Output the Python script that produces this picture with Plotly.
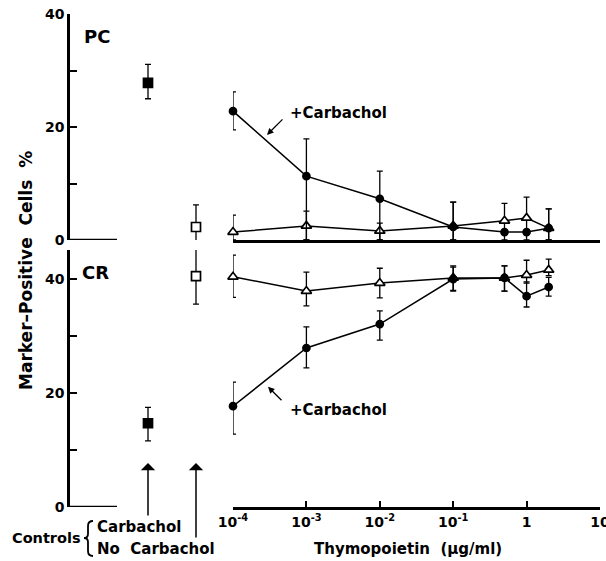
import plotly.graph_objects as go

# ---------------- data ----------------
conc = [1e-4, 1e-3, 1e-2, 1e-1, 0.5, 1, 2]          # thymopoietin, ug/ml

pc_carb = [22.8, 11.3, 7.3, 2.3, 1.4, 1.4, 2.1]
pc_carb_up = [3.4, 6.6, 4.9, 4.4, 0.0, 0.0, 3.4]
pc_carb_dn = [3.3, 11.3, 7.3, 2.3, 1.4, 1.4, 2.1]

pc_nocarb = [1.4, 2.5, 1.6, 2.5, 3.4, 3.9, 2.1]
pc_nocarb_up = [3.0, 2.6, 1.4, 4.2, 3.1, 3.7, 3.4]
pc_nocarb_dn = [1.4, 2.5, 1.6, 2.5, 2.0, 2.5, 2.1]

cr_carb = [17.7, 27.9, 32.1, 40.0, 40.2, 37.0, 38.6]
cr_carb_up = [4.2, 3.7, 2.3, 2.1, 2.1, 2.5, 1.7]
cr_carb_dn = [4.9, 3.5, 2.8, 2.0, 2.3, 1.9, 1.6]

cr_nocarb = [40.4, 37.9, 39.3, 40.2, 40.2, 40.7, 41.6]
cr_nocarb_up = [3.8, 3.3, 2.6, 2.1, 2.1, 2.6, 1.9]
cr_nocarb_dn = [3.6, 2.6, 2.6, 2.3, 2.3, 1.4, 1.0]

control_labels = ["Carbachol", "No Carbachol"]
pc_ctrl = [27.8, 2.3]
pc_ctrl_up = [3.3, 3.9]
pc_ctrl_dn = [2.8, 3.7]
cr_ctrl = [14.7, 40.5]
cr_ctrl_up = [2.8, 4.8]
cr_ctrl_dn = [3.1, 4.9]

x_tickvals = [1e-4, 1e-3, 1e-2, 1e-1, 1, 10]
x_ticktext = ["10<sup>-4</sup>", "10<sup>-3</sup>", "10<sup>-2</sup>", "10<sup>-1</sup>", "1", "10"]
y_tickvals = [0, 10, 20, 30, 40]
y_ticktext = ["0", "", "20", "", "40"]

FONT = "DejaVu Sans"
BLACK = "black"

fig = go.Figure()


def err(up, dn):
    return dict(type="data", symmetric=False, array=up, arrayminus=dn,
                color=BLACK, thickness=1.3, width=3)


def series(x, y, up, dn, xa, ya, symbol, size, filled):
    fig.add_trace(go.Scatter(
        x=x, y=y, xaxis=xa, yaxis=ya, mode="lines+markers",
        line=dict(color=BLACK, width=1.5),
        marker=dict(symbol=symbol, size=size,
                    color=BLACK if filled else "white",
                    line=dict(color=BLACK, width=1.7)),
        error_y=err(up, dn), cliponaxis=False, showlegend=False,
    ))


# PC panel
series(conc, pc_nocarb, pc_nocarb_up, pc_nocarb_dn, "x", "y", "triangle-up", 9, False)
series(conc, pc_carb, pc_carb_up, pc_carb_dn, "x", "y", "circle", 7, True)
# CR panel
series(conc, cr_nocarb, cr_nocarb_up, cr_nocarb_dn, "x2", "y2", "triangle-up", 9, False)
series(conc, cr_carb, cr_carb_up, cr_carb_dn, "x2", "y2", "circle", 7, True)

# controls
for xa, ya, vals, up, dn in [("x3", "y", pc_ctrl, pc_ctrl_up, pc_ctrl_dn),
                             ("x4", "y2", cr_ctrl, cr_ctrl_up, cr_ctrl_dn)]:
    fig.add_trace(go.Scatter(
        x=control_labels, y=vals, xaxis=xa, yaxis=ya, mode="markers",
        marker=dict(symbol="square", size=9, color=[BLACK, "white"],
                    line=dict(color=BLACK, width=1.7)),
        error_y=err(up, dn), cliponaxis=False, showlegend=False,
    ))

W, H = 606, 561
px = lambda v: v / W
py = lambda v: 1 - v / H

XR = [-4, 1.003]
xdom = [px(233), px(600.2)]
cdom = [px(68), px(232)]
ctrl_range = [-80 / 48, 1 + 36 / 48]

axis_common = dict(showgrid=False, zeroline=False, showline=True,
                   linecolor=BLACK, linewidth=2.5, automargin=False)
BOLD = dict(family=FONT, weight="bold")

fig.update_layout(
    width=W, height=H,
    margin=dict(l=0, r=0, t=0, b=0, autoexpand=False),
    paper_bgcolor="white", plot_bgcolor="white",
    font=dict(family=FONT, color=BLACK, size=14, weight="bold"),
    xaxis=dict(domain=xdom, type="log", range=XR, anchor="y",
               tickvals=[10], ticks="inside", ticklen=6, tickwidth=1.5,
               tickcolor=BLACK, showticklabels=False, **axis_common),
    xaxis2=dict(domain=xdom, type="log", range=XR, anchor="y2",
                tickvals=x_tickvals, ticktext=x_ticktext, ticks="inside",
                ticklen=6, tickwidth=1.5, tickcolor=BLACK,
                ticklabeloverflow="allow",
                tickfont=dict(size=14, **BOLD), **axis_common),
    xaxis3=dict(domain=cdom, type="category", range=ctrl_range, anchor="y",
                visible=False, automargin=False),
    xaxis4=dict(domain=cdom, type="category", range=ctrl_range, anchor="y2",
                visible=False, automargin=False),
    yaxis=dict(domain=[py(240), py(14)], range=[0, 40], anchor="free",
               position=px(68), tickvals=y_tickvals, ticktext=y_ticktext,
               ticks="inside", ticklen=7, tickwidth=1.5, tickcolor=BLACK,
               tickfont=dict(size=14, **BOLD), **axis_common),
    yaxis2=dict(domain=[py(507), py(250)], range=[0, 45.1], anchor="free",
                position=px(68), tickvals=y_tickvals, ticktext=y_ticktext,
                ticks="inside", ticklen=7, tickwidth=1.5, tickcolor=BLACK,
                tickfont=dict(size=14, **BOLD), **axis_common),
)

# short baselines of the control section
for yr in ["y", "y2"]:
    fig.add_shape(type="line", xref="paper", yref=yr, x0=px(67), x1=px(117),
                  y0=0, y1=0, line=dict(color=BLACK, width=2.5))

# curly brace of the controls key (decoration)
bx, bt, bm, bb = 88, 521, 538, 556
brace = (f"M {px(bx+5)},{py(bt)} Q {px(bx)},{py(bt)} {px(bx)},{py(bt+5)} "
         f"L {px(bx)},{py(bm-4)} Q {px(bx)},{py(bm)} {px(bx-4)},{py(bm)} "
         f"Q {px(bx)},{py(bm)} {px(bx)},{py(bm+4)} "
         f"L {px(bx)},{py(bb-5)} Q {px(bx)},{py(bb)} {px(bx+5)},{py(bb)}")
fig.add_shape(type="path", xref="paper", yref="paper", path=brace,
              line=dict(color=BLACK, width=1.8))

ann = []
# panel labels
ann.append(dict(text="PC", xref="paper", yref="paper", x=px(82), y=py(37),
                xanchor="left", yanchor="middle", showarrow=False,
                font=dict(size=18, **BOLD)))
ann.append(dict(text="CR", xref="paper", yref="paper", x=px(80), y=py(273),
                xanchor="left", yanchor="middle", showarrow=False,
                font=dict(size=18, **BOLD)))
# y title
ann.append(dict(text="Marker\u2013Positive  Cells  %", xref="paper", yref="paper",
                x=px(26), y=py(271), textangle=-90, showarrow=False,
                xanchor="center", yanchor="middle",
                font=dict(size=17, **BOLD)))
# x title
ann.append(dict(text="Thymopoietin  (\u03bcg/ml)", xref="paper", yref="paper",
                x=px(408), y=py(549), showarrow=False,
                xanchor="center", yanchor="middle",
                font=dict(size=15, **BOLD)))
# +Carbachol labels and arrows
ann.append(dict(text="+Carbachol", xref="x", yref="y", x=-3.25, y=22.5,
                xanchor="left", yanchor="middle", showarrow=False,
                font=dict(size=15, **BOLD)))
ann.append(dict(text="", xref="x", yref="y", x=-3.537, y=18.6, ax=17, ay=-17,
                showarrow=True, arrowhead=2, arrowsize=1, arrowwidth=1.3,
                arrowcolor=BLACK))
ann.append(dict(text="+Carbachol", xref="x2", yref="y2", x=-3.25, y=17.0,
                xanchor="left", yanchor="middle", showarrow=False,
                font=dict(size=15, **BOLD)))
ann.append(dict(text="", xref="x2", yref="y2", x=-3.523, y=21.1, ax=15, ay=15,
                showarrow=True, arrowhead=2, arrowsize=1, arrowwidth=1.3,
                arrowcolor=BLACK))
# control arrows
for lab, tail in zip(control_labels, [54, 76]):
    ann.append(dict(text="", xref="x4", yref="y2", x=lab, y=7.7, ax=0, ay=tail,
                    showarrow=True, arrowhead=1, arrowsize=1.6, arrowwidth=1.5,
                    arrowcolor=BLACK))
# controls key text
ann.append(dict(text="Controls", xref="paper", yref="paper", x=px(10), y=py(538),
                xanchor="left", yanchor="middle", showarrow=False,
                font=dict(size=14.5, **BOLD)))
ann.append(dict(text="Carbachol", xref="paper", yref="paper", x=px(95), y=py(527),
                xanchor="left", yanchor="middle", showarrow=False,
                font=dict(size=15, **BOLD)))
ann.append(dict(text="No  Carbachol", xref="paper", yref="paper", x=px(95), y=py(549),
                xanchor="left", yanchor="middle", showarrow=False,
                font=dict(size=15, **BOLD)))
fig.update_layout(annotations=ann)

fig.write_html("out.html", config={"displayModeBar": False},
               post_script="document.body.style.margin='0px';")
